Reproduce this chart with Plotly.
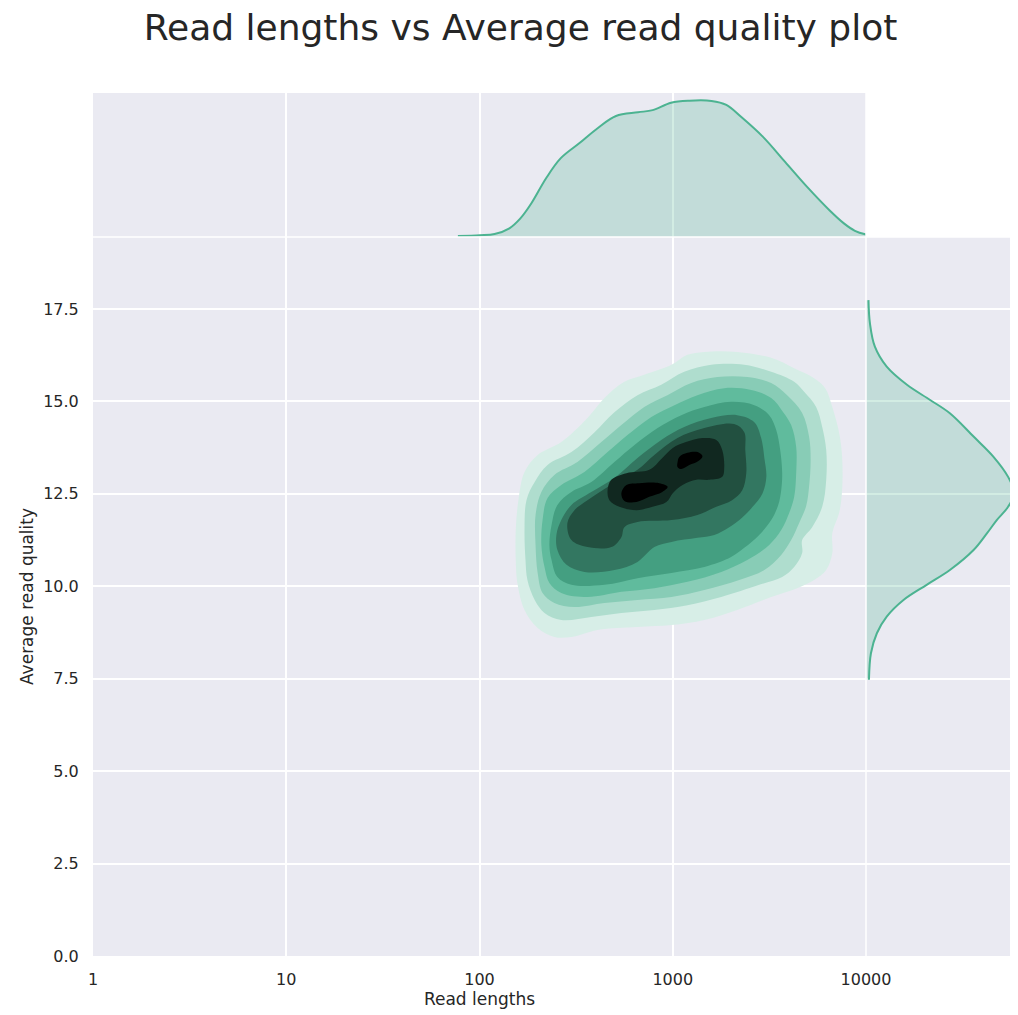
import colorsys
import plotly.graph_objects as go

# ---------------- data ----------------
# Joint KDE contour outlines, outermost (level 1) to innermost (level 9)
L1_len = [157, 154, 154, 159, 171, 200, 265, 362, 443, 562, 712, 985, 1191, 1457, 2154, 3232, 4250, 5391, 6151, 6694,
          7259, 7523, 7523, 7259, 6694, 6694, 6225, 5391, 4403, 3232, 2154, 1457, 985, 657, 408, 299, 244, 200, 171]
L1_q = [10.09, 10.71, 11.52, 12.33, 13.09, 13.55, 13.90, 14.55, 15.09, 15.53, 15.72, 15.99, 16.26, 16.34, 16.34, 16.18,
        15.90, 15.63, 15.36, 14.85, 14.15, 13.50, 12.60, 11.98, 11.44, 10.90, 10.44, 10.17, 9.95, 9.71, 9.36, 9.09,
        8.95, 8.90, 8.82, 8.63, 8.63, 8.87, 9.36]

L2_len = [177, 173, 171, 175, 193, 225, 299, 394, 499, 657, 872, 1146, 1581, 2345, 3232, 4250, 4785, 5521, 5935, 6225,
          6225, 5935, 5264, 4673, 4673, 4250, 3684, 2801, 1782, 1191, 803, 542, 379, 265, 217, 193]
L2_q = [10.17, 10.71, 11.52, 12.33, 12.82, 13.28, 13.63, 14.17, 14.71, 15.17, 15.45, 15.80, 15.99, 15.99, 15.80, 15.53,
        15.26, 14.85, 14.31, 13.69, 12.88, 12.15, 11.60, 11.25, 10.90, 10.52, 10.25, 10.04, 9.71, 9.49, 9.36, 9.28,
        9.17, 9.09, 9.28, 9.63]

L3_len = [200, 195, 195, 209, 244, 321, 427, 542, 712, 938, 1247, 1699, 2430, 3232, 3908, 4673, 5079, 5170, 5079, 4902,
          4509, 4100, 3641, 2978, 2208, 1457, 985, 657, 443, 310, 244, 212]
L3_q = [10.36, 11.12, 11.93, 12.55, 13.01, 13.36, 13.90, 14.36, 14.85, 15.17, 15.50, 15.66, 15.66, 15.50, 15.17, 14.69,
        14.04, 13.42, 12.71, 12.17, 11.71, 11.25, 10.85, 10.44, 10.17, 9.90, 9.71, 9.63, 9.55, 9.44, 9.55, 9.82]

L4_len = [217, 209, 212, 225, 265, 349, 460, 583, 775, 1021, 1341, 1847, 2547, 3232, 3727, 4100, 4352, 4352, 4250,
          4003, 3641, 3155, 2430, 1783, 1191, 803, 542, 362, 265, 230]
L4_q = [10.52, 11.12, 11.79, 12.39, 12.74, 13.09, 13.63, 14.09, 14.58, 14.90, 15.17, 15.36, 15.31, 15.09, 14.71, 14.36,
        13.77, 13.06, 12.42, 11.98, 11.52, 11.12, 10.71, 10.39, 10.12, 9.95, 9.85, 9.71, 9.82, 10.09]

L5_len = [236, 230, 236, 253, 299, 379, 499, 634, 835, 1107, 1457, 2004, 2643, 3155, 3431, 3597, 3684, 3641, 3514,
          3232, 2801, 2345, 2004, 1457, 985, 657, 443, 299, 253]
L5_q = [10.71, 11.12, 11.66, 12.20, 12.55, 12.82, 13.36, 13.82, 14.28, 14.63, 14.85, 14.99, 14.90, 14.63, 14.23, 13.69,
        13.06, 12.60, 12.20, 11.79, 11.39, 11.04, 10.79, 10.52, 10.36, 10.22, 10.04, 10.04, 10.25]

L6_len = [253, 250, 265, 299, 379, 499, 657, 872, 1146, 1581, 2154, 2643, 2868, 2978, 3050, 2917, 2589, 2297, 1960,
          1640, 1341, 985, 803, 657, 499, 349, 282]
L6_q = [10.98, 11.39, 11.79, 12.20, 12.55, 12.93, 13.47, 13.96, 14.31, 14.55, 14.63, 14.44, 14.01, 13.47, 12.96, 12.52,
        12.15, 11.87, 11.60, 11.39, 11.31, 11.20, 11.06, 10.66, 10.44, 10.39, 10.58]

L7_len = [285, 299, 362, 481, 542, 562, 657, 985, 1341, 1680, 2028, 2289, 2401, 2373, 2345, 2077, 1457, 1058, 803, 657,
          529, 433, 362, 310]
L7_q = [11.71, 11.25, 11.06, 11.06, 11.33, 11.60, 11.74, 11.79, 11.93, 12.15, 12.33, 12.60, 13.06, 13.69, 14.17, 14.39,
        14.28, 14.01, 13.55, 13.15, 12.88, 12.60, 12.33, 12.06]

L8_len = [460, 481, 576, 756, 883, 1000, 1170, 1425, 1680, 1803, 1847, 1803, 1545, 1325, 1124, 1000, 927, 786, 649,
          529, 470]
L8_q = [12.60, 12.88, 13.06, 13.15, 13.47, 13.74, 13.90, 14.01, 13.96, 13.69, 13.23, 12.96, 12.88, 12.88, 12.74, 12.52,
        12.28, 12.15, 12.06, 12.15, 12.33]

L9a_len = [542, 576, 671, 852, 941, 883, 756, 649, 562]
L9a_q = [12.52, 12.74, 12.79, 12.79, 12.69, 12.55, 12.42, 12.28, 12.31]
L9b_len = [1058, 1081, 1191, 1341, 1425, 1357, 1218, 1105, 1058]
L9b_q = [13.34, 13.50, 13.61, 13.63, 13.52, 13.39, 13.28, 13.17, 13.23]

# Marginal KDE of read lengths (top)
top_len = [77.3, 100.5, 119.7, 142.8, 162.8, 185.6, 221.1, 263.4, 328.1, 408.5, 508.5, 661.0, 787.6, 980.6, 1221,
           1586, 1893, 2256, 2931, 3814, 4958, 6450, 7685, 8762, 9906, 11500]
top_dens = [0.004, 0.007, 0.012, 0.035, 0.075, 0.136, 0.237, 0.318, 0.378, 0.439, 0.488, 0.503, 0.512, 0.542, 0.550,
            0.549, 0.533, 0.485, 0.404, 0.303, 0.202, 0.109, 0.055, 0.025, 0.011, 0.004]

# Marginal KDE of average read quality (right)
right_q = [17.74, 17.11, 16.48, 15.94, 15.45, 15.04, 14.68, 14.05, 13.51, 12.96, 12.52, 12.15, 11.79, 11.43, 10.98,
           10.44, 10.04, 9.63, 9.18, 8.73, 8.19, 7.47]
right_dens = [0.005, 0.008, 0.018, 0.042, 0.083, 0.130, 0.170, 0.218, 0.258, 0.288, 0.300, 0.288, 0.265, 0.245, 0.218,
              0.170, 0.123, 0.076, 0.042, 0.022, 0.010, 0.006]

x_ticks = [1, 10, 100, 1000, 10000]
x_tick_text = ["1", "10", "100", "1000", "10000"]
y_ticks = [0, 2.5, 5, 7.5, 10, 12.5, 15, 17.5]
y_tick_text = ["0.0", "2.5", "5.0", "7.5", "10.0", "12.5", "15.0", "17.5"]

# ---------------- styling ----------------
PAGE_W, PAGE_H = 1018, 1015
OFF = 8  # default page body margin
W, H = PAGE_W - OFF, PAGE_H - OFF
BASE = "#4CB391"
BG = "#EAEAF2"
TXT = "#262626"
FONT = "DejaVu Sans"

r0, g0, b0 = (int(BASE[i:i + 2], 16) / 255 for i in (1, 3, 5))
hue, _, sat = colorsys.rgb_to_hls(r0, g0, b0)


def band_color(k, n=9):
    r, g, b = colorsys.hls_to_rgb(hue, 1 - k / n, sat)
    return "rgb({:.0f},{:.0f},{:.0f})".format(r * 255, g * 255, b * 255)


def px_x(p):
    return (p - OFF) / W


def px_y(p):
    return 1 - (p - OFF) / H


levels = [(L1_len, L1_q), (L2_len, L2_q), (L3_len, L3_q), (L4_len, L4_q), (L5_len, L5_q),
          (L6_len, L6_q), (L7_len, L7_q), (L8_len, L8_q), (L9a_len, L9a_q), (L9b_len, L9b_q)]
level_index = [1, 2, 3, 4, 5, 6, 7, 8, 9, 9]

fig = go.Figure()

for (xs, ys), k in zip(levels, level_index):
    fig.add_trace(go.Scatter(
        x=list(xs) + [xs[0]], y=list(ys) + [ys[0]],
        mode="lines", fill="toself", fillcolor=band_color(k),
        line=dict(width=0, color=band_color(k), shape="spline", smoothing=1.0),
        hoverinfo="skip", showlegend=False, xaxis="x", yaxis="y"))

fig.add_trace(go.Scatter(
    x=top_len, y=top_dens, mode="lines", fill="tozeroy",
    fillcolor="rgba(76,179,145,0.25)", line=dict(color=BASE, width=2, shape="spline"),
    hoverinfo="skip", showlegend=False, xaxis="x2", yaxis="y2"))

fig.add_trace(go.Scatter(
    x=right_dens, y=right_q, mode="lines", fill="tozerox",
    fillcolor="rgba(76,179,145,0.25)", line=dict(color=BASE, width=2, shape="spline"),
    hoverinfo="skip", showlegend=False, xaxis="x3", yaxis="y3"))

main_x_dom = [px_x(93), px_x(866)]
main_y_dom = [px_y(956), px_y(237)]
y_top = (956 - 237) / 36.97

grid = dict(showgrid=True, gridcolor="white", gridwidth=1.5, zeroline=False, showline=False)
tick_font = dict(size=16, family=FONT, color=TXT)
label_font = dict(size=17, family=FONT, color=TXT)

fig.update_layout(
    width=W, height=H,
    margin=dict(l=0, r=0, t=0, b=0),
    paper_bgcolor="white", plot_bgcolor=BG,
    font=dict(family=FONT, color=TXT, size=16),
    title=dict(text="Read lengths vs Average read quality plot", x=px_x(520.5), xanchor="center",
               y=px_y(27), yanchor="middle", font=dict(size=36, family=FONT, color=TXT)),
    xaxis=dict(domain=main_x_dom, type="log", range=[0, 4], tickvals=x_ticks, ticktext=x_tick_text,
               ticks="outside", ticklen=9, tickcolor="rgba(0,0,0,0)", automargin=False,
               tickfont=tick_font,
               title=dict(text="Read lengths", font=label_font, standoff=4),
               anchor="y", **grid),
    yaxis=dict(domain=main_y_dom, range=[0, y_top], tickvals=y_ticks, ticktext=y_tick_text,
               ticks="outside", ticklen=10, tickcolor="rgba(0,0,0,0)", automargin=False,
               tickfont=tick_font,
               title=dict(text="Average read quality", font=label_font, standoff=5),
               anchor="x", **grid),
    xaxis2=dict(domain=main_x_dom, type="log", range=[0, 4], tickvals=x_ticks, showticklabels=False,
                anchor="y2", automargin=False, **grid),
    yaxis2=dict(domain=[px_y(237), px_y(93)], range=[0, 0.581], showgrid=False, zeroline=False,
                showticklabels=False, anchor="x2", automargin=False),
    xaxis3=dict(domain=[px_x(866), px_x(1016)], range=[0, 0.304], showgrid=False, zeroline=False,
                showticklabels=False, anchor="y3", automargin=False),
    yaxis3=dict(domain=main_y_dom, range=[0, y_top], tickvals=y_ticks, showticklabels=False,
                anchor="x3", automargin=False, **grid),
    shapes=[
        dict(type="line", xref="paper", yref="paper", x0=px_x(93), x1=px_x(1016), y0=px_y(237), y1=px_y(237),
             line=dict(color="white", width=1.5), layer="above"),
        dict(type="line", xref="paper", yref="paper", x0=px_x(866), x1=px_x(866), y0=px_y(93), y1=px_y(956),
             line=dict(color="white", width=1.5), layer="above"),
    ],
)

fig.write_html("out.html")
